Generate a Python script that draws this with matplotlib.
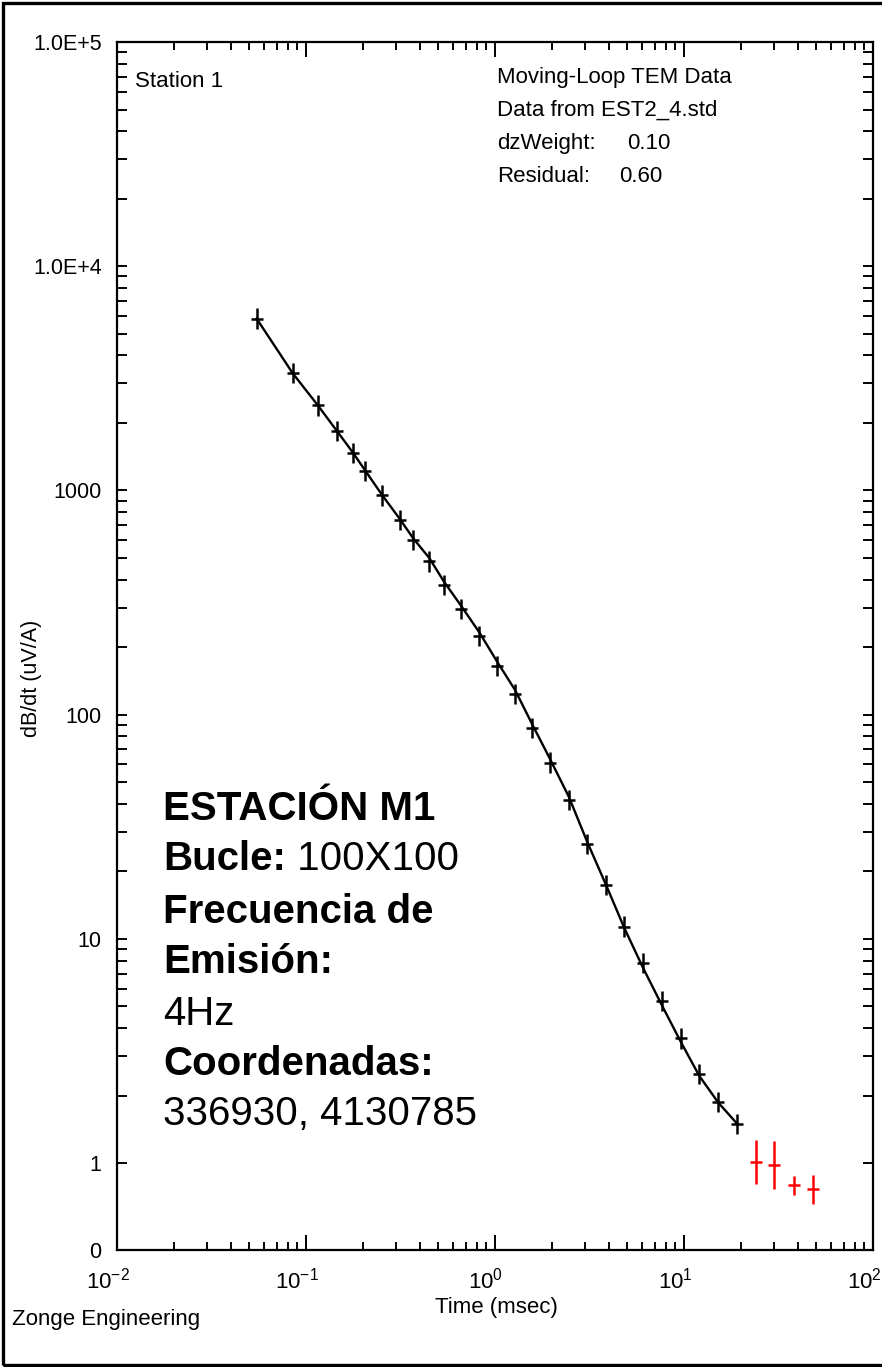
import numpy as np
import matplotlib
matplotlib.use("Agg")
import matplotlib.pyplot as plt
import matplotlib.transforms as mtransforms
from matplotlib.ticker import FixedLocator, FixedFormatter, LogLocator, NullFormatter
from matplotlib.patches import Rectangle

plt.rcParams['font.family'] = ['Liberation Sans', 'DejaVu Sans']
plt.rcParams['mathtext.default'] = 'regular'

# tiempos de ventana (msec) y datos medidos dB/dt (uV/A)
t_data = [0.0548, 0.0851, 0.1154, 0.1452, 0.1766, 0.206, 0.2515, 0.314, 0.370,
          0.449, 0.537, 0.658, 0.826, 1.028, 1.276, 1.575, 1.954, 2.46, 3.08,
          3.87, 4.83, 6.04, 7.62, 9.61, 12.05, 15.2, 19.1]
v_data = [5840, 3330, 2395, 1840, 1473, 1219, 950, 737, 600,
          483, 378, 296, 224, 165, 124, 87.2, 61.2, 41.7, 26.5,
          17.4, 11.35, 7.79, 5.30, 3.60, 2.50, 1.88, 1.50]
# error relativo de cada dato
err_rel = [0.11, 0.11, 0.11, 0.11, 0.11, 0.11, 0.11, 0.11, 0.11,
           0.11, 0.11, 0.11, 0.11, 0.11, 0.11, 0.11, 0.11, 0.11, 0.11,
           0.11, 0.11, 0.11, 0.11, 0.11, 0.11, 0.11, 0.11]
# curva del modelo
v_model = [5840, 3330, 2400, 1850, 1480, 1225, 960, 745, 610,
           500, 392, 308, 233, 172, 129, 90.5, 63.5, 43.0, 27.0,
           17.4, 11.2, 7.5, 5.08, 3.48, 2.45, 1.86, 1.50]

# datos descartados (rojo)
t_red = [24.0, 30.0, 38.2, 48.0]
v_red = [1.01, 0.98, 0.80, 0.77]
red_lo = [0.81, 0.77, 0.72, 0.66]
red_hi = [1.27, 1.25, 0.88, 0.89]

y_ticks = [0.41, 1, 10, 100, 1000, 1e4, 1e5]
y_labels = ['0', '1', '10', '100', '1000', '1.0E+4', '1.0E+5']
x_ticks = [0.01, 0.1, 1, 10, 100]
x_labels = ['$10^{-2}$', '$10^{-1}$', '$10^{0}$', '$10^{1}$', '$10^{2}$']

W, H = 882, 1367
fig = plt.figure(figsize=(W / 100, H / 100), dpi=100)


def fx(px):
    return px / W


def fy(py):
    return 1 - py / H


ax = fig.add_axes([fx(117), fy(1250), (873 - 117) / W, (1250 - 42) / H])

v = np.array(v_data)
e = np.array(err_rel)
ax.plot(t_data, v_model, color='black', lw=1.7, zorder=2)
ax.errorbar(t_data, v, yerr=[v - v / (1 + e), v * e], fmt='_', color='black',
            ms=9, mew=1.8, elinewidth=1.8, capsize=0, zorder=3)
vr = np.array(v_red)
ax.errorbar(t_red, vr, yerr=[vr - np.array(red_lo), np.array(red_hi) - vr],
            fmt='_', color='red', ms=9, mew=1.8, elinewidth=1.8, capsize=0, zorder=3)

ax.set_xscale('log')
ax.set_yscale('log')
ax.set_xlim(0.01, 100)
ax.set_ylim(0.41, 1e5)

ax.xaxis.set_major_locator(FixedLocator(x_ticks))
ax.xaxis.set_major_formatter(FixedFormatter(x_labels))
ax.xaxis.set_minor_locator(LogLocator(base=10, subs=np.arange(2, 10)))
ax.xaxis.set_minor_formatter(NullFormatter())
ax.yaxis.set_major_locator(FixedLocator(y_ticks))
ax.yaxis.set_major_formatter(FixedFormatter(y_labels))
ax.yaxis.set_minor_locator(FixedLocator([m * 10 ** k for k in range(0, 5) for m in range(2, 10)]))
ax.yaxis.set_minor_formatter(NullFormatter())

ax.tick_params(which='both', direction='in', top=True, right=True, width=1.4, color='black')
ax.tick_params(axis='x', which='major', length=11, pad=13, labelsize=16)
ax.tick_params(axis='x', which='minor', length=6)
ax.tick_params(axis='y', which='both', length=7.5, pad=11, labelsize=15.5)
for s in ax.spines.values():
    s.set_linewidth(1.6)

# etiquetas del eje x algo a la izquierda, como en el original
shift = mtransforms.ScaledTranslation(-9 / 100, 0, fig.dpi_scale_trans)
for lab in ax.get_xticklabels():
    lab.set_transform(lab.get_transform() + shift)

small = 16
ax.text(fx(135), fy(87), 'Station 1', transform=fig.transFigure, fontsize=small, va='baseline')
ax.text(fx(497), fy(83), 'Moving-Loop TEM Data', transform=fig.transFigure, fontsize=small, va='baseline')
ax.text(fx(497), fy(116), 'Data from EST2_4.std', transform=fig.transFigure, fontsize=small, va='baseline')
ax.text(fx(497), fy(149), 'dzWeight:', transform=fig.transFigure, fontsize=small, va='baseline')
ax.text(fx(627), fy(149), '0.10', transform=fig.transFigure, fontsize=small, va='baseline')
ax.text(fx(497), fy(182), 'Residual:', transform=fig.transFigure, fontsize=small, va='baseline')
ax.text(fx(619), fy(182), '0.60', transform=fig.transFigure, fontsize=small, va='baseline')

big = 29
fig.text(fx(163), fy(820), 'ESTACIÓN M1', fontsize=big, fontweight='bold', va='baseline')
bucle = fig.text(fx(163), fy(870), 'Bucle:', fontsize=big, fontweight='bold', va='baseline')
ax.annotate(' 100X100', xy=(1, 0), xycoords=bucle, fontsize=big, va='bottom', ha='left')
fig.text(fx(163), fy(923), 'Frecuencia de', fontsize=big, fontweight='bold', va='baseline')
fig.text(fx(163), fy(973), 'Emisión:', fontsize=big, fontweight='bold', va='baseline')
fig.text(fx(163), fy(1025), '4Hz', fontsize=big, va='baseline')
fig.text(fx(163), fy(1075), 'Coordenadas:', fontsize=big, fontweight='bold', va='baseline')
fig.text(fx(163), fy(1125), '336930, 4130785', fontsize=big, va='baseline')

fig.text(fx(32), fy(678), 'dB/dt (uV/A)', fontsize=15.5, rotation=90, ha='center', va='center')
fig.text(fx(496), fy(1307), 'Time (msec)', fontsize=16, ha='center', va='center')
fig.text(fx(12), fy(1320), 'Zonge Engineering', fontsize=small, ha='left', va='center')

fig.add_artist(Rectangle((fx(3), fy(1365)), 1.0, (1365 - 3) / H, transform=fig.transFigure,
                         fill=False, lw=2.4, edgecolor='black'))

fig.savefig('out.png', dpi=100)
